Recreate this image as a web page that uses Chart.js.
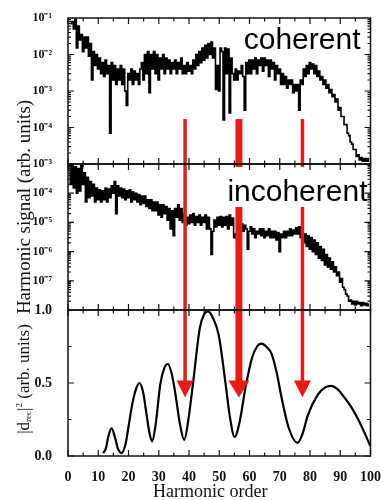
<!DOCTYPE html>
<html>
<head>
<meta charset="utf-8">
<script src="https://cdn.jsdelivr.net/npm/chart.js@4.4.1/dist/chart.umd.min.js"></script>
<style>
  html, body { margin: 0; padding: 0; background: #fff; }
</style>
</head>
<body>
<canvas id="chart" width="386" height="500"></canvas>
<script>
// harmonic order grid (0.5 steps) shared by both spectra
const harmonics = [
  0.5, 1, 1.5, 2, 2.5, 3, 3.5, 4, 4.5, 5, 5.5, 6, 6.5, 7, 7.5, 8, 8.5, 9, 9.5, 10,
  10.5, 11, 11.5, 12, 12.5, 13, 13.5, 14, 14.5, 15, 15.5, 16, 16.5, 17, 17.5, 18, 18.5, 19, 19.5, 20,
  20.5, 21, 21.5, 22, 22.5, 23, 23.5, 24, 24.5, 25, 25.5, 26, 26.5, 27, 27.5, 28, 28.5, 29, 29.5, 30,
  30.5, 31, 31.5, 32, 32.5, 33, 33.5, 34, 34.5, 35, 35.5, 36, 36.5, 37, 37.5, 38, 38.5, 39, 39.5, 40,
  40.5, 41, 41.5, 42, 42.5, 43, 43.5, 44, 44.5, 45, 45.5, 46, 46.5, 47, 47.5, 48, 48.5, 49, 49.5, 50,
  50.5, 51, 51.5, 52, 52.5, 53, 53.5, 54, 54.5, 55, 55.5, 56, 56.5, 57, 57.5, 58, 58.5, 59, 59.5, 60,
  60.5, 61, 61.5, 62, 62.5, 63, 63.5, 64, 64.5, 65, 65.5, 66, 66.5, 67, 67.5, 68, 68.5, 69, 69.5, 70,
  70.5, 71, 71.5, 72, 72.5, 73, 73.5, 74, 74.5, 75, 75.5, 76, 76.5, 77, 77.5, 78, 78.5, 79, 79.5, 80,
  80.5, 81, 81.5, 82, 82.5, 83, 83.5, 84, 84.5, 85, 85.5, 86, 86.5, 87, 87.5, 88, 88.5, 89, 89.5, 90,
  90.5, 91, 91.5, 92, 92.5, 93, 93.5, 94, 94.5, 95, 95.5, 96, 96.5, 97, 97.5, 98, 98.5, 99, 99.5
];

// coherent harmonic signal (top panel, arb. units)
const coherent = [
  null, 7e-2, 8e-2, 5e-2, 9e-2, 1.5e-2, 6e-2, 2.5e-2, 3.5e-2, 1.2e-2,
  3e-2, 1.5e-2, 3e-2, 9e-3, 2e-2, 2e-3, 1.2e-2, 5e-3, 1e-2, 4e-3,
  8e-3, 3e-3, 6e-3, 2.5e-3, 7e-3, 3e-3, 5e-3, 7e-5, 6e-3, 2e-3,
  5e-3, 1.5e-3, 4e-3, 2e-3, 5e-3, 1.5e-3, 4e-3, 1e-3, 4e-4, 3e-3,
  2e-3, 4e-3, 1.5e-3, 3.5e-3, 2e-3, 3e-3, 1.5e-3, 4e-3, 6e-3, 2e-3,
  1e-2, 3e-3, 1.2e-2, 9e-4, 1e-2, 4e-3, 1.2e-2, 3e-3, 1e-2, 2e-3,
  8e-3, 4e-3, 1e-2, 3e-3, 8e-3, 4e-3, 7e-3, 3e-3, 6e-3, 4e-3,
  7e-3, 3e-3, 6e-3, 4e-3, 8e-3, 3e-3, 5e-3, 3e-3, 6e-3, 3.5e-3,
  5e-3, 3e-3, 7e-3, 4e-3, 1e-2, 5e-3, 1.2e-2, 6e-3, 1.5e-2, 7e-3,
  1.8e-2, 8e-3, 2e-2, 1e-2, 2.2e-2, 8e-3, 1.5e-2, 1.1e-3, 5e-3, 1e-3,
  1.5e-2, 1.2e-2, 1.6e-4, 1.5e-2, 3e-3, 1.4e-2, 2.5e-4, 8e-3, 3e-3, 2e-3,
  4e-3, 2e-3, 3.5e-3, 3e-3, 5e-3, 2.5e-3, 3e-4, 6e-3, 3e-3, 7e-3,
  3e-3, 7e-3, 4e-3, 8e-3, 3e-3, 7e-3, 5e-3, 8e-3, 3.5e-3, 8e-3,
  5e-3, 7e-3, 2.5e-3, 7e-3, 4e-3, 6e-3, 2e-3, 5e-3, 3e-3, 4e-3,
  1.5e-3, 3e-3, 1.5e-3, 2.5e-3, 1.2e-3, 2e-3, 1.5e-3, 2e-3, 9e-4, 1.5e-3,
  1e-3, 1.5e-3, 3e-4, 2e-3, 1.5e-3, 4e-3, 2.5e-3, 5e-3, 3e-3, 6e-3,
  4e-3, 5.5e-3, 3e-3, 5e-3, 2.5e-3, 3.5e-3, 2e-3, 2.5e-3, 1.5e-3, 2e-3,
  1.2e-3, 1.5e-3, 9e-4, 1.1e-3, 7e-4, 8e-4, 5e-4, 6e-4, 3e-4, 3.5e-4,
  2e-4, 2e-4, 1.2e-4, 1.2e-4, 7e-5, 6e-5, 4e-5, 3.5e-5, 2.5e-5, 2.5e-5,
  1.6e-5, 1.8e-5, 1.3e-5, 1.5e-5, 1.2e-5, 1.4e-5, 1.2e-5, 1.4e-5, 1.2e-5
];

// incoherent harmonic signal (middle panel, arb. units)
const incoherent = [
  8e-4, 2e-4, 9e-4, 1.5e-4, 8e-4, 1e-4, 7e-4, 1.2e-4, 9e-4, 2e-4,
  5e-4, 5e-5, 3.5e-4, 7e-5, 2.5e-4, 8e-5, 2e-4, 5e-5, 1.5e-4, 6e-5,
  1.3e-4, 5e-5, 1.2e-4, 6e-5, 1.5e-4, 5e-5, 1.4e-4, 7e-5, 1.8e-4, 1e-4,
  2.5e-4, 2e-5, 1.8e-4, 8e-5, 1.5e-4, 7e-5, 1.4e-4, 6e-5, 1.2e-4, 7e-5,
  1.3e-4, 5e-5, 1.1e-4, 6e-5, 1e-4, 5e-5, 9e-5, 4e-5, 8e-5, 4.5e-5,
  8e-5, 3.5e-5, 6e-5, 3e-5, 6e-5, 2.5e-5, 5e-5, 2.5e-5, 5e-5, 1.8e-5,
  4e-5, 1.5e-5, 4e-5, 2e-5, 3.5e-5, 1.2e-5, 3e-5, 6e-6, 2.5e-5, 3.5e-6,
  3e-5, 1.5e-5, 4e-5, 1.2e-5, 3e-5, 1e-5, 2e-5, 8e-6, 1.5e-5, 9e-6,
  1.8e-5, 1e-5, 2e-5, 8e-6, 1.6e-5, 1e-5, 1.8e-5, 8e-6, 1.5e-5, 1e-5,
  1.8e-5, 6e-6, 1.5e-5, 6e-6, 8e-7, 5e-6, 1.2e-5, 7e-6, 1.5e-5, 8e-6,
  1.6e-5, 7e-6, 1.5e-5, 8e-6, 1.6e-5, 6e-6, 1.8e-5, 8e-6, 1.4e-5, 3e-6,
  4e-6, 2.5e-6, 8e-6, 6e-6, 9e-6, 5e-6, 8e-6, 6e-6, 1.2e-6, 5e-6,
  7e-6, 4e-6, 6e-6, 3e-6, 5e-6, 4e-6, 6e-6, 3.5e-6, 6e-6, 3e-6,
  5e-6, 3.5e-6, 6e-6, 3e-6, 5e-6, 3e-6, 5e-6, 2.5e-6, 4.5e-6, 1e-6,
  4e-6, 3e-6, 5e-6, 3e-6, 5e-6, 3.5e-6, 6e-6, 3.5e-6, 5.5e-6, 4e-6,
  6.5e-6, 4e-6, 7e-6, 3e-6, 6e-6, 2e-6, 4e-6, 1.5e-6, 3.5e-6, 1.2e-6,
  3e-6, 1e-6, 2.5e-6, 8e-7, 2e-6, 6e-7, 1.5e-6, 5e-7, 1.2e-6, 3.5e-7,
  8e-7, 3e-7, 6e-7, 2.5e-7, 4.5e-7, 2e-7, 3e-7, 1.5e-7, 2e-7, 9e-8,
  1.2e-7, 6e-8, 5e-8, 3.5e-8, 3e-8, 2e-8, 2.2e-8, 1.6e-8, 2e-8, 1.5e-8,
  2e-8, 1.6e-8, 1.8e-8, 1.4e-8, 1.8e-8, 1.5e-8, 1.7e-8, 1.4e-8, 1.6e-8
];

// |d_rec|^2 (bottom panel), read at its turning points and flanks
const drecHarmonics = [
  11.6, 12.5, 13.3, 14.4, 15.5, 16.5, 17.7, 19, 20, 21.2, 22.5, 23.6, 24.8, 26, 27, 27.8,
  29, 30.5, 31.8, 33, 34.2, 35.4, 37, 38.4, 39.8, 41.4, 43.6, 45, 46.3, 47.8, 49.8, 52,
  53.5, 55.1, 56.8, 58.6, 60.8, 62.5, 64, 65.5, 67.3, 69, 70.6, 73, 75.9, 77.5, 79.3, 82.6,
  85, 87, 89, 91.4, 93.5, 95.7, 98, 99.9
];
const drec = [
  0.02, 0.05, 0.13, 0.19, 0.13, 0.05, 0.02, 0.08, 0.20, 0.35, 0.46, 0.50, 0.44, 0.28, 0.15, 0.10,
  0.22, 0.49, 0.60, 0.63, 0.57, 0.44, 0.22, 0.11, 0.25, 0.51, 0.88, 0.97, 0.99, 0.95, 0.83, 0.51,
  0.27, 0.13, 0.24, 0.46, 0.67, 0.75, 0.77, 0.75, 0.70, 0.57, 0.40, 0.19, 0.09, 0.15, 0.28, 0.42,
  0.47, 0.48, 0.46, 0.40, 0.34, 0.26, 0.16, 0.07
];

// axis ticks
const xTickValues = [0, 10, 20, 30, 40, 50, 60, 70, 80, 90, 100];
const topTickValues = [1e-1, 1e-2, 1e-3, 1e-4, 1e-5];
const topTickLabels = ['10⁻¹', '10⁻²', '10⁻³', '10⁻⁴', ''];
const midTickValues = [1e-3, 1e-4, 1e-5, 1e-6, 1e-7, 1e-8];
const midTickLabels = ['10⁻³', '10⁻⁴', '10⁻⁵', '10⁻⁶', '10⁻⁷', ''];
const botTickValues = [0, 0.5, 1];
const botTickLabels = ['0.0', '0.5', '1.0'];

// red arrows: harmonic order they point at
const arrowHarmonics = [38.7, 56.5, 77.5];

const SERIF = '"Liberation Serif", "Times New Roman", serif';
const SANS = '"Liberation Sans", Arial, sans-serif';
const RED = 'rgb(232, 28, 20)';

function yAxis(type, min, max, values, labels, weight, size) {
    return {
        type: type,
        min: min,
        max: max,
        position: 'left',
        stack: 'panels',
        stackWeight: 1,
        weight: weight,
        afterBuildTicks: s => { s.ticks = values.map(v => ({ value: v })); },
        afterFit: s => { s.width = 68; },
        ticks: {
            autoSkip: false,
            padding: 8,
            color: '#111',
            font: { family: SERIF, size: size, weight: 'bold' },
            callback: (v, i) => labels[i]
        },
        grid: { display: false },
        border: { display: false }
    };
}

// frames, inward ticks, arrows and texts
const decor = {
    id: 'decor',
    afterDatasetsDraw(chart) {
        const { ctx, chartArea: a, scales } = chart;
        const sx = scales.x;
        const top = scales.yTop, mid = scales.yMid, bot = scales.yBot;
        ctx.save();

        // arrows
        const yStart = top.getPixelForValue(1.7e-4);
        const yTip = bot.getPixelForValue(0.40);
        const headLen = 17;
        ctx.fillStyle = RED;
        arrowHarmonics.forEach((h, i) => {
            const cx = sx.getPixelForValue(h);
            const w = i === 1 ? 7 : 3.5;
            const hw = i === 1 ? 21 : 17;
            ctx.fillRect(cx - w / 2, yStart, w, yTip - headLen - yStart + 1);
            ctx.beginPath();
            ctx.moveTo(cx - hw / 2, yTip - headLen);
            ctx.lineTo(cx + hw / 2, yTip - headLen);
            ctx.lineTo(cx, yTip);
            ctx.closePath();
            ctx.fill();
        });

        // panel labels
        ctx.font = '30px ' + SANS;
        ctx.textAlign = 'right';
        ctx.textBaseline = 'alphabetic';
        ctx.fillStyle = '#000';
        ctx.fillText('coherent', a.right - 10, top.top + 31);
        const incW = ctx.measureText('incoherent').width;
        ctx.fillStyle = '#fff';
        ctx.fillRect(a.right - 3 - incW - 2, mid.top + 3, incW + 3, 40);
        ctx.fillStyle = '#000';
        ctx.fillText('incoherent', a.right - 3, mid.top + 37);

        // frames
        ctx.strokeStyle = '#111';
        ctx.lineWidth = 1.5;
        [top, mid, bot].forEach(p => {
            ctx.strokeRect(a.left, p.top, a.right - a.left, p.bottom - p.top);
        });

        ctx.lineWidth = 1.2;
        ctx.beginPath();
        // x ticks on every panel edge, pointing inward
        [top, mid, bot].forEach(p => {
            for (let v = 0; v <= 100; v += 5) {
                const px = sx.getPixelForValue(v);
                const len = v % 10 === 0 ? 6 : 3.5;
                ctx.moveTo(px, p.top); ctx.lineTo(px, p.top + len);
                ctx.moveTo(px, p.bottom); ctx.lineTo(px, p.bottom - len);
            }
        });
        // y ticks, left and right
        const yTick = (p, v, len) => {
            const py = p.getPixelForValue(v);
            ctx.moveTo(a.left, py); ctx.lineTo(a.left + len, py);
            ctx.moveTo(a.right, py); ctx.lineTo(a.right - len, py);
        };
        [top, mid].forEach(p => {
            for (let d = Math.log10(p.min); d < Math.log10(p.max); d++) {
                yTick(p, Math.pow(10, d), 6);
                for (let m = 2; m <= 9; m++) yTick(p, m * Math.pow(10, d), 3);
            }
        });
        [0, 0.25, 0.5, 0.75, 1].forEach((v, i) => yTick(bot, v, i % 2 ? 3.5 : 6));
        ctx.stroke();

        // axis titles
        ctx.fillStyle = '#111';
        ctx.save();
        ctx.translate(25, mid.top + 43);
        ctx.rotate(-Math.PI / 2);
        ctx.textAlign = 'center';
        ctx.textBaseline = 'middle';
        ctx.font = '19px ' + SERIF;
        ctx.fillText('Harmonic signal (arb. units)', 0, 0);
        ctx.restore();

        ctx.save();
        ctx.translate(25, bot.top + 69);
        ctx.rotate(-Math.PI / 2);
        ctx.textBaseline = 'middle';
        const parts = [
            { t: '|d', f: '17px ', dy: 0 },
            { t: 'rec', f: '9px ', dy: 4 },
            { t: '|', f: '17px ', dy: 0 },
            { t: '2', f: '9px ', dy: -5 },
            { t: ' (arb. units)', f: '17px ', dy: 0 }
        ];
        let total = 0;
        parts.forEach(p => { ctx.font = p.f + SERIF; p.w = ctx.measureText(p.t).width; total += p.w; });
        let px = -total / 2;
        ctx.textAlign = 'left';
        parts.forEach(p => { ctx.font = p.f + SERIF; ctx.fillText(p.t, px, p.dy); px += p.w; });
        ctx.restore();

        ctx.font = '18px ' + SERIF;
        ctx.textAlign = 'center';
        ctx.textBaseline = 'alphabetic';
        ctx.fillText('Harmonic order', (a.left + a.right) / 2 - 9, 497);

        ctx.restore();
    }
};

new Chart(document.getElementById('chart'), {
    type: 'line',
    data: {
        datasets: [
            {
                label: 'coherent',
                data: harmonics.map((h, i) => ({ x: h, y: coherent[i] })),
                yAxisID: 'yTop',
                borderColor: '#000',
                borderWidth: 1.6,
                stepped: 'middle',
                pointRadius: 0
            },
            {
                label: 'incoherent',
                data: harmonics.map((h, i) => ({ x: h, y: incoherent[i] })),
                yAxisID: 'yMid',
                borderColor: '#000',
                borderWidth: 1.6,
                stepped: 'middle',
                pointRadius: 0
            },
            {
                label: '|d_rec|^2',
                data: drecHarmonics.map((h, i) => ({ x: h, y: drec[i] })),
                yAxisID: 'yBot',
                borderColor: '#000',
                borderWidth: 2.2,
                cubicInterpolationMode: 'monotone',
                pointRadius: 0
            }
        ]
    },
    options: {
        responsive: false,
        animation: false,
        devicePixelRatio: 1,
        layout: { padding: { top: 18, right: 13, left: 0, bottom: 0 } },
        plugins: { legend: { display: false }, tooltip: { enabled: false } },
        scales: {
            x: {
                type: 'linear',
                min: 0,
                max: 100,
                afterBuildTicks: s => { s.ticks = xTickValues.map(v => ({ value: v })); },
                afterFit: s => { s.height = 44; },
                ticks: {
                    autoSkip: false,
                    maxRotation: 0,
                    padding: 5,
                    color: '#111',
                    font: { family: SERIF, size: 14, weight: 'bold' }
                },
                grid: { display: false },
                border: { display: false }
            },
            yBot: yAxis('linear', 0, 1, botTickValues, botTickLabels, 1, 14),
            yMid: yAxis('logarithmic', 1e-8, 1e-3, midTickValues, midTickLabels, 2, 12),
            yTop: yAxis('logarithmic', 1e-5, 1e-1, topTickValues, topTickLabels, 3, 12)
        }
    },
    plugins: [decor]
});
</script>
</body>
</html>
